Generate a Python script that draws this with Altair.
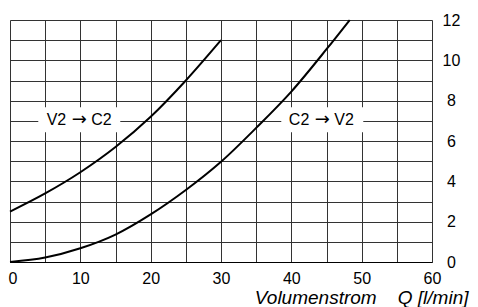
import altair as alt
import pandas as pd

# Curve V2 -> C2
v2c2_q = [0, 5, 10, 15, 20, 25, 30]
v2c2_p = [2.5, 3.4, 4.45, 5.7, 7.2, 9.0, 11.0]
# Curve C2 -> V2
c2v2_q = [0, 5, 10, 15, 20, 25, 30, 35, 40, 45, 48.3]
c2v2_p = [0, 0.22, 0.68, 1.36, 2.36, 3.57, 4.97, 6.65, 8.45, 10.55, 12.0]

label_from = ["V2", "C2"]
label_to = ["C2", "V2"]
label_q = [9.85, 44.4]
label_p = [7.05, 7.05]

x_grid = list(range(0, 61, 5))
y_grid = list(range(0, 13, 1))

curves = pd.DataFrame(
    {"q": v2c2_q + c2v2_q,
     "p": v2c2_p + c2v2_p,
     "s": ["V2C2"] * len(v2c2_q) + ["C2V2"] * len(c2v2_q),
     "o": list(range(len(v2c2_q))) + list(range(len(c2v2_q)))}
)
labels = pd.DataFrame({"a": label_from, "b": label_to, "q": label_q, "p": label_p})

FONT = "Liberation Sans"

xscale = alt.Scale(domain=[0, 60], nice=False, zero=False)
yscale = alt.Scale(domain=[0, 12], nice=False, zero=False)

xaxis = alt.Axis(
    values=x_grid, grid=True, gridColor="#333", gridWidth=1, gridOpacity=1,
    ticks=False, tickSize=0, domain=True, domainColor="black", domainWidth=1,
    labelExpr="datum.value % 10 == 0 ? datum.label : ''", labelFlush=False,
    labelOffset={"condition": {"test": "datum.value == 0", "value": 2.5}, "value": 0},
    labelFont=FONT, labelFontSize=16, labelColor="black", labelPadding=8,
    title="Volumenstrom\u00a0\u00a0\u00a0\u00a0Q [l/min]", titleFont=FONT, titleFontSize=19,
    titleFontStyle="italic", titleFontWeight="normal", titleColor="black",
    titleAnchor="end", titleAlign="right", titleX=458, titleY=41,
    titleBaseline="alphabetic",
)
yaxis = alt.Axis(
    orient="right", values=y_grid, grid=True, gridColor="#333", gridWidth=1,
    gridOpacity=1, ticks=False, tickSize=0, domain=False, labelFlush=False,
    labelExpr="datum.value % 2 == 0 ? datum.label : ''",
    labelFont=FONT, labelFontSize=16, labelColor="black", labelPadding=19,
    labelAlign="center", title=None,
)

X = alt.X("q:Q", scale=xscale, axis=xaxis)
Y = alt.Y("p:Q", scale=yscale, axis=yaxis)

lines = alt.Chart(curves).mark_line(
    color="black", strokeWidth=2, interpolate="monotone"
).encode(x=X, y=Y, detail="s:N", order="o:Q")

boxes = alt.Chart(labels).mark_rect(color="white", width=82, height=25).encode(x=X, y=Y)

left = alt.Chart(labels).mark_text(
    font=FONT, fontSize=16, color="black", align="right", baseline="middle", dx=-13
).encode(x=X, y=Y, text="a:N")

arrow = alt.Chart(labels).mark_text(
    font="DejaVu Sans", fontSize=18, color="black", align="center", baseline="middle",
    text="\u2192", dy=0
).encode(x=X, y=Y)

right = alt.Chart(labels).mark_text(
    font=FONT, fontSize=16, color="black", align="left", baseline="middle", dx=12
).encode(x=X, y=Y, text="b:N")

chart = alt.layer(lines, boxes, left, arrow, right).properties(
    width=422, height=242,
    autosize=alt.AutoSizeParams(type="none"),
    padding={"left": 2, "top": 12, "right": 38, "bottom": 45},
).configure_view(stroke="black", strokeWidth=1).configure(background="white")

chart.save("out.html", embed_options={"renderer": "svg", "actions": False})
